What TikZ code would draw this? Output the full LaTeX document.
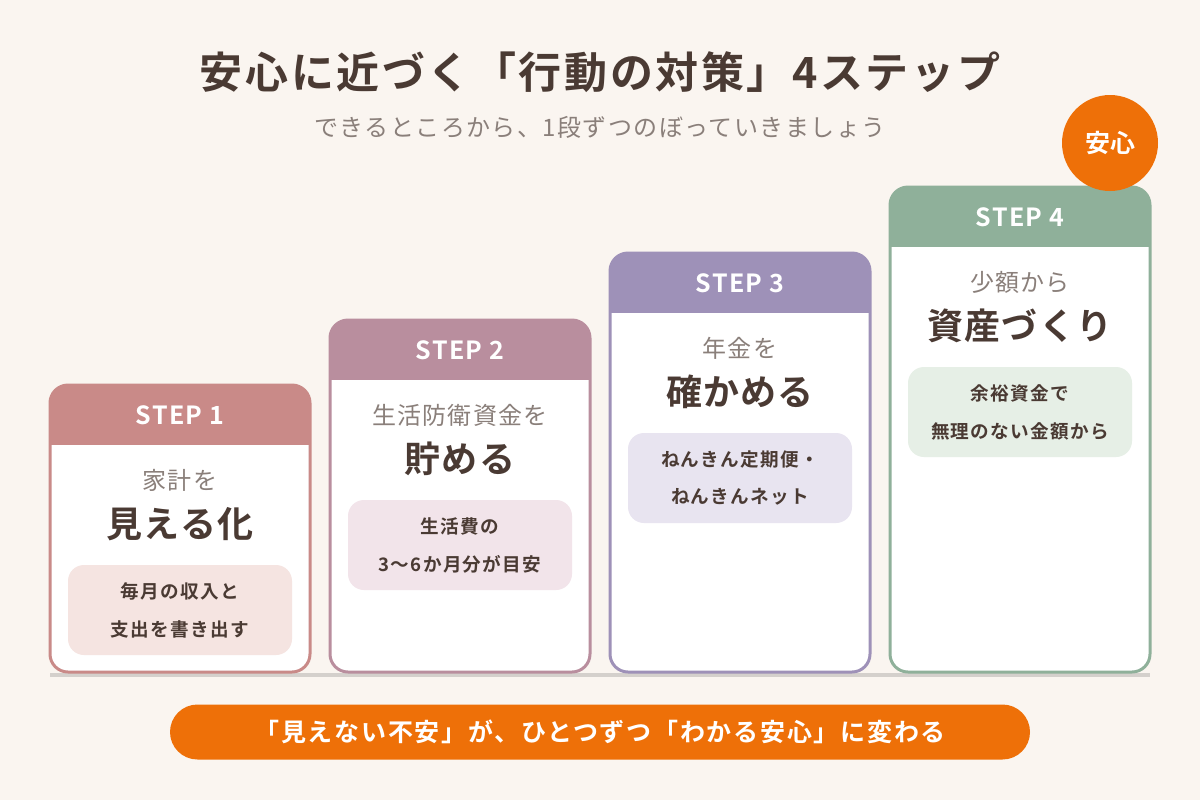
\documentclass[tikz,border=0pt]{standalone}
\usepackage{fontspec}
\setmainfont{Noto Sans CJK JP}[BoldFont={Noto Sans CJK JP Bold}]
\usepackage{tikz}
\definecolor{bgcol}{HTML}{FAF5F0}
\definecolor{ink}{HTML}{4A3A33}
\definecolor{subink}{HTML}{8A7F7A}
\definecolor{orng}{HTML}{EE7008}
\definecolor{cA}{HTML}{C98A88}
\definecolor{cB}{HTML}{B98E9E}
\definecolor{cC}{HTML}{9E91B8}
\definecolor{cD}{HTML}{8FB09A}
\definecolor{fA}{HTML}{F5E4E1}
\definecolor{fB}{HTML}{F2E4EA}
\definecolor{fC}{HTML}{E8E4F0}
\definecolor{fD}{HTML}{E6EFE6}
\newcommand{\spaced}[1]{\addfontfeatures{LetterSpace=#1}}
\tikzset{
    lead/.style={text=subink, font=\fontsize{12}{14}\selectfont\spaced{5}}, % 小見出し
    big/.style={text=ink, font=\bfseries\fontsize{18}{20}\selectfont\spaced{3}}, % 大見出し
    memo/.style={text=ink, font=\bfseries\fontsize{9.3}{11}\selectfont\spaced{7}}
}
\begin{document}
\begin{tikzpicture}[x=0.5pt, y=-0.5pt]
    \fill[bgcol] (0,0) rectangle (1200,800);

    \node[text=ink, font=\bfseries\fontsize{21.5}{24}\selectfont\spaced{6}] (title) at (600,72) {安心に近づく「行動の対策」4ステップ};
    \node[text=subink, font=\fontsize{12}{14}\selectfont\spaced{6}] (sub) at (600,127) {できるところから、1段ずつのぼっていきましょう};

    \draw[line width=2pt, draw=black!15!bgcol] (50,675) -- (1150,675);

    \foreach \i/\px/\py/\cc/\ff/\ltext/\btext/\ma/\mb in {
        1/50/385/cA/fA/{家計を}/{見える化}/{毎月の収入と}/{支出を書き出す},
        2/330/320/cB/fB/{生活防衛資金を}/{貯める}/{生活費の}/{3〜6か月分が目安},
        3/610/253/cC/fC/{年金を}/{確かめる}/{ねんきん定期便・}/{ねんきんネット},
        4/890/187/cD/fD/{少額から}/{資産づくり}/{余裕資金で}/{無理のない金額から}
    } {
        \fill[white, rounded corners=9pt] (\px,\py) rectangle (\px+260,672);
        \begin{scope}
            \clip[rounded corners=9pt] (\px,\py) rectangle (\px+260,672);
            \fill[\cc] (\px,\py) rectangle (\px+260,\py+60);
        \end{scope}
        \draw[\cc, line width=1.5pt, rounded corners=9pt] (\px,\py) rectangle (\px+260,672);
        \node[text=white, font=\bfseries\fontsize{12.5}{14}\selectfont\spaced{5}] (h\i) at (\px+130,\py+30) {STEP \i};
        \node[lead] (l\i) at (\px+130,\py+95) {\ltext};
        \node[big] (b\i) at (\px+130,\py+139) {\btext};
        \fill[\ff, rounded corners=8pt] (\px+18,\py+180) rectangle (\px+242,\py+270);
        \node[memo] (ma\i) at (\px+130,\py+206) {\ma};
        \node[memo] (mb\i) at (\px+130,\py+244) {\mb};
    }

    \node[circle, fill=orng, minimum size=48pt, text=white, font=\bfseries\fontsize{12.5}{14}\selectfont] (anshin) at (1110,143) {安心};

    \node[fill=orng, rounded corners=13.75pt, minimum width=430pt, minimum height=27.5pt, text=white, font=\bfseries\fontsize{12.5}{14}\selectfont\spaced{7}] (msg) at (600,732) {「見えない不安」が、ひとつずつ「わかる安心」に変わる};
\end{tikzpicture}
\end{document}
